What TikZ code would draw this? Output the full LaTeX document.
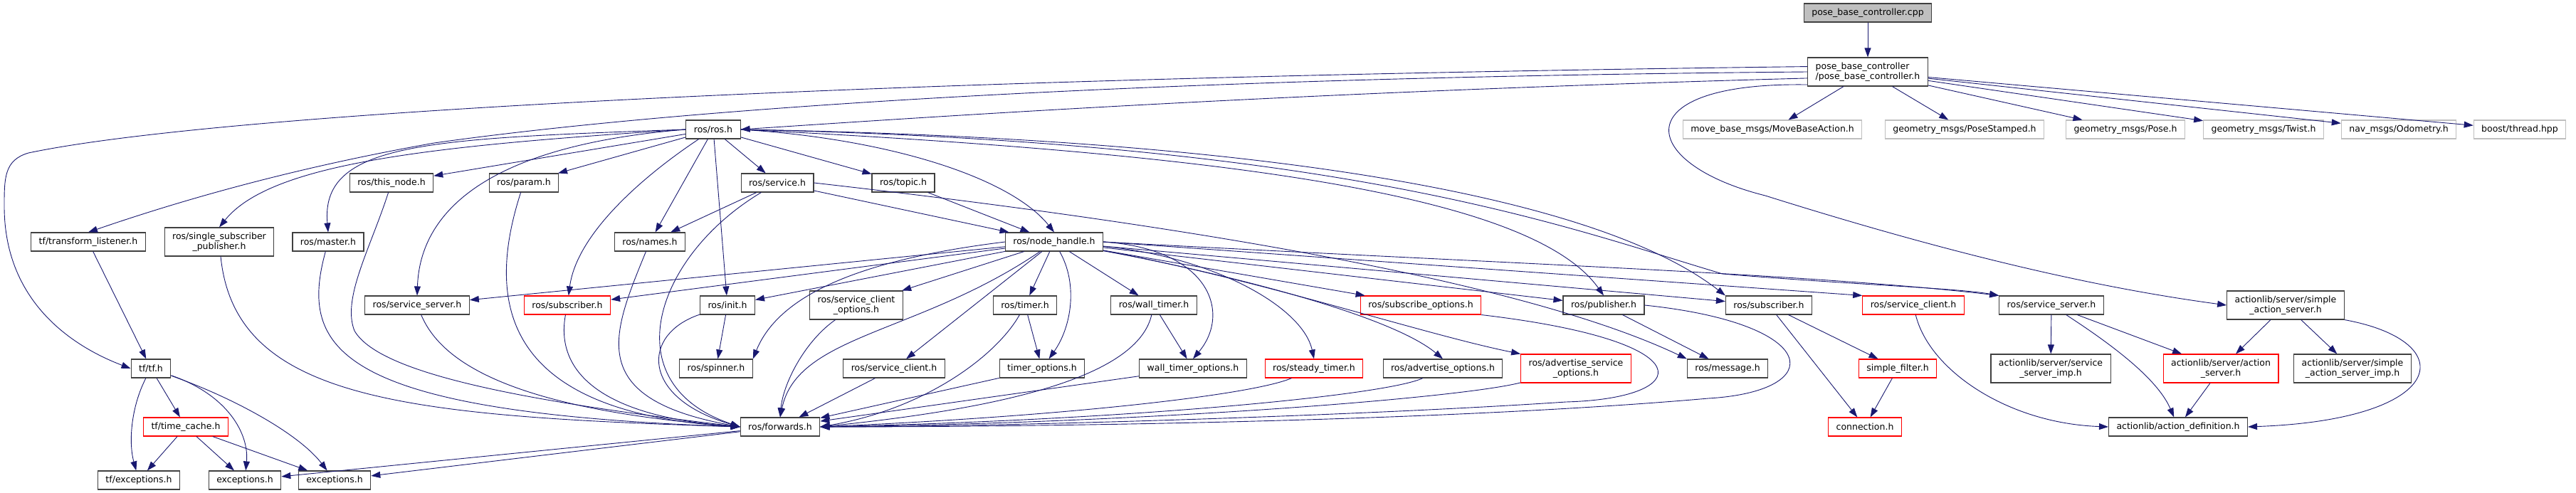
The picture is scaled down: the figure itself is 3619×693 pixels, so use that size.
\documentclass[tikz,border=0pt]{standalone}
\usepackage{fontspec}
\setmainfont{DejaVu Sans}
\usetikzlibrary{arrows.meta}
\definecolor{edgeblue}{HTML}{191970}
\definecolor{extgray}{HTML}{BFBFBF}
\definecolor{framegray}{HTML}{404040}
\definecolor{trunc}{HTML}{FF0000}
\newcommand{\depfont}{\fontsize{12.5}{14}\selectfont}

\begin{document}
\begin{tikzpicture}[
    x=1pt, y=-1pt,
    hf/.style={draw=framegray, line width=1.1pt, fill=white, font=\depfont, inner xsep=11pt, inner ysep=0pt, minimum height=26pt, align=center},
    hfred/.style={hf, draw=trunc},
    hfext/.style={hf, draw=extgray},
    hfroot/.style={hf, fill=extgray},
    tall/.style={minimum height=40pt},
    dep/.style={draw=edgeblue, line width=0.9pt, -{Triangle[length=13pt,width=9pt]}},
]

% Canvas size
\useasboundingbox (0,0) rectangle (3619,693);

% Source file and its header
\node[hfroot] (cpp) at (2624,18) {pose\_base\_controller.cpp};
\node[hf, tall, align=left] (pbc) at (2624,101) {pose\_base\_controller\\/pose\_base\_controller.h};

% Row 2
\node[hf] (ros) at (1002,182) {ros/ros.h};
\node[hfext] (mba) at (2490,182) {move\_base\_msgs/MoveBaseAction.h};
\node[hfext] (gps) at (2760,182) {geometry\_msgs/PoseStamped.h};
\node[hfext] (gp) at (2986,182) {geometry\_msgs/Pose.h};
\node[hfext] (gt) at (3180,182) {geometry\_msgs/Twist.h};
\node[hfext] (odom) at (3370,182) {nav\_msgs/Odometry.h};
\node[hfext] (bthread) at (3540,182) {boost/thread.hpp};

% Row 3
\node[hf] (thisnode) at (550,257) {ros/this\_node.h};
\node[hf] (param) at (736,257) {ros/param.h};
\node[hf] (service) at (1092,257) {ros/service.h};
\node[hf] (topic) at (1269,257) {ros/topic.h};

% Row 4
\node[hf] (tflist) at (124,340) {tf/transform\_listener.h};
\node[hf, tall] (ssp) at (308,340) {ros/single\_subscriber\\\_publisher.h};
\node[hf] (master) at (461,340) {ros/master.h};
\node[hf] (names) at (913,340) {ros/names.h};
\node[hf] (nh) at (1481,340) {ros/node\_handle.h};

% Row 5
\node[hf] (ssrvL) at (586,429) {ros/service\_server.h};
\node[hfred] (subred) at (797,429) {ros/subscriber.h};
\node[hf] (init) at (1022,429) {ros/init.h};
\node[hf, tall] (sco) at (1203,429) {ros/service\_client\\\_options.h};
\node[hf] (timer) at (1440,429) {ros/timer.h};
\node[hf] (wtimer) at (1621,429) {ros/wall\_timer.h};
\node[hfred] (subopt) at (1996,429) {ros/subscribe\_options.h};
\node[hf] (pub) at (2253,429) {ros/publisher.h};
\node[hf] (subblk) at (2485,429) {ros/subscriber.h};
\node[hfred] (sclient) at (2688,429) {ros/service\_client.h};
\node[hf] (ssrvR) at (2882,429) {ros/service\_server.h};
\node[hf, tall] (sas) at (3211,429) {actionlib/server/simple\\\_action\_server.h};

% Row 6
\node[hf] (tf) at (212,518) {tf/tf.h};
\node[hf] (spinner) at (1006,518) {ros/spinner.h};
\node[hf] (sc) at (1256,518) {ros/service\_client.h};
\node[hf] (topt) at (1464,518) {timer\_options.h};
\node[hf] (wtopt) at (1676,518) {wall\_timer\_options.h};
\node[hfred] (steady) at (1846,518) {ros/steady\_timer.h};
\node[hf] (advopt) at (2027,518) {ros/advertise\_options.h};
\node[hfred, tall] (asopt) at (2214,518) {ros/advertise\_service\\\_options.h};
\node[hf] (msg) at (2427,518) {ros/message.h};
\node[hfred] (sfilter) at (2666,518) {simple\_filter.h};
\node[hf, tall] (ssimp) at (2881,518) {actionlib/server/service\\\_server\_imp.h};
\node[hfred, tall] (asrv) at (3120,518) {actionlib/server/action\\\_server.h};
\node[hf, tall] (sasimp) at (3305,518) {actionlib/server/simple\\\_action\_server\_imp.h};

% Row 7
\node[hfred] (tcache) at (261,600) {tf/time\_cache.h};
\node[hf] (fwd) at (1096,600) {ros/forwards.h};
\node[hfred] (conn) at (2620,600) {connection.h};
\node[hf] (adef) at (3060,600) {actionlib/action\_definition.h};

% Row 8
\node[hf] (tfexc) at (195,675) {tf/exceptions.h};
\node[hf] (exca) at (344,675) {exceptions.h};
\node[hf] (excb) at (470,675) {exceptions.h};

% Controller includes
\draw[dep] (cpp) -- (pbc);
\draw[dep] (pbc) -- (mba);
\draw[dep] (pbc) -- (gps);
\draw[dep] (pbc) -- (gp);
\draw[dep] (pbc) -- (gt);
\draw[dep] (pbc) -- (odom);
\draw[dep] (pbc) -- (bthread);
\draw[dep] (pbc.186) .. controls (1800,130) and (1300,165) .. (ros.east);
\draw[dep] (pbc.180) .. controls (1500,110) and (900,160) .. (610,201) .. controls (390,240) and (230,290) .. (tflist.north);
\draw[dep] (pbc.175) .. controls (1200,110) and (300,160) .. (40,215) .. controls (6,225) and (6,250) .. (6,290) .. controls (6,430) and (110,490) .. (tf.west);
\draw[dep] (pbc.192) .. controls (2280,115) and (2300,230) .. (2480,275) .. controls (2750,360) and (2950,405) .. (sas.west);

% tf side
\draw[dep] (tflist) -- (tf);
\draw[dep] (tf) .. controls (185,570) and (180,620) .. (tfexc);
\draw[dep] (tf) -- (tcache);
\draw[dep] (tf) .. controls (320,555) and (350,610) .. (exca);
\draw[dep] (tf) .. controls (330,560) and (420,610) .. (excb);
\draw[dep] (tcache) -- (tfexc);
\draw[dep] (tcache) -- (exca);
\draw[dep] (tcache) -- (excb);
\draw[dep] (fwd) -- (exca);
\draw[dep] (fwd) -- (excb);

% ros/ros.h
\draw[dep] (ros) -- (thisnode);
\draw[dep] (ros) -- (param);
\draw[dep] (ros) -- (service);
\draw[dep] (ros) -- (topic);
\draw[dep] (ros) -- (names);
\draw[dep] (ros) -- (init);
\draw[dep] (ros) .. controls (900,250) and (810,330) .. (subred);
\draw[dep] (ros.west) .. controls (600,195) and (450,200) .. (master.north);
\draw[dep] (ros.west) .. controls (600,205) and (380,230) .. (ssp.north);
\draw[dep] (ros.west) .. controls (680,205) and (590,300) .. (ssrvL.north);
\draw[dep] (ros.east) .. controls (1250,195) and (1420,250) .. (nh.north);
\draw[dep] (ros.east) .. controls (1700,215) and (2150,270) .. (pub.north);
\draw[dep] (ros.east) .. controls (1800,195) and (2250,280) .. (subblk.north west);
\draw[dep] (ros.east) .. controls (1900,200) and (2200,320) .. (2420,385) .. controls (2600,400) and (2750,405) .. (ssrvR.north west);

% ros/service.h and ros/topic.h
\draw[dep] (service) -- (names);
\draw[dep] (service) -- (nh);
\draw[dep] (service) .. controls (920,360) and (860,540) .. (fwd.west);
\draw[dep] (service.east) .. controls (1700,320) and (2150,400) .. (msg.north west);
\draw[dep] (topic) -- (nh);

% ros/node_handle.h
\draw[dep] (nh) -- (ssrvL);
\draw[dep] (nh) -- (subred);
\draw[dep] (nh) -- (init);
\draw[dep] (nh.west) .. controls (1250,360) and (1100,400) .. (spinner.north east);
\draw[dep] (nh) -- (sco);
\draw[dep] (nh) -- (sc);
\draw[dep] (nh) .. controls (1290,470) and (1120,470) .. (fwd.north);
\draw[dep] (nh) -- (timer);
\draw[dep] (nh) .. controls (1515,400) and (1505,460) .. (topt);
\draw[dep] (nh) -- (wtimer);
\draw[dep] (nh.east) .. controls (1700,350) and (1730,440) .. (wtopt.north);
\draw[dep] (nh) .. controls (1700,360) and (1830,430) .. (steady.north);
\draw[dep] (nh) .. controls (1700,380) and (1950,440) .. (advopt.north);
\draw[dep] (nh) .. controls (1760,390) and (2000,470) .. (asopt.north west);
\draw[dep] (nh) -- (subopt);
\draw[dep] (nh) -- (pub);
\draw[dep] (nh) -- (subblk);
\draw[dep] (nh.east) -- (sclient.north west);
\draw[dep] (nh.east) .. controls (2100,370) and (2550,385) .. (ssrvR.north west);

% Into ros/forwards.h
\draw[dep] (ssp) .. controls (330,560) and (560,585) .. (fwd.west);
\draw[dep] (master) .. controls (420,490) and (470,580) .. (fwd.west);
\draw[dep] (thisnode) .. controls (520,350) and (480,420) .. (498,465) .. controls (530,520) and (700,560) .. (fwd.west);
\draw[dep] (param) .. controls (680,430) and (710,580) .. (fwd.west);
\draw[dep] (ssrvL) .. controls (620,510) and (720,575) .. (fwd.west);
\draw[dep] (subred) .. controls (780,520) and (840,585) .. (fwd.west);
\draw[dep] (names) .. controls (860,470) and (820,560) .. (fwd.west);
\draw[dep] (init) -- (spinner);
\draw[dep] (init) .. controls (900,470) and (900,560) .. (fwd.west);
\draw[dep] (sco) .. controls (1130,480) and (1100,540) .. (fwd.north);
\draw[dep] (sc) -- (fwd);
\draw[dep] (timer) -- (topt);
\draw[dep] (timer) .. controls (1400,500) and (1300,575) .. (fwd.east);
\draw[dep] (topt) -- (fwd);
\draw[dep] (wtimer) -- (wtopt);
\draw[dep] (wtimer) .. controls (1600,520) and (1450,570) .. (fwd.east);
\draw[dep] (wtopt) -- (fwd);
\draw[dep] (steady) .. controls (1760,555) and (1500,585) .. (fwd.east);
\draw[dep] (advopt) .. controls (1950,555) and (1600,590) .. (fwd.east);
\draw[dep] (asopt) .. controls (2050,560) and (1600,595) .. (fwd.east);
\draw[dep] (subopt.south east) .. controls (2400,480) and (2380,560) .. (2200,565) .. controls (1900,585) and (1400,600) .. (fwd.east);
\draw[dep] (pub) -- (msg);
\draw[dep] (pub.east) .. controls (2560,455) and (2570,550) .. (2400,560) .. controls (2000,595) and (1400,600) .. (fwd.east);

% Right hand side
\draw[dep] (subblk) -- (conn);
\draw[dep] (subblk) -- (sfilter);
\draw[dep] (sfilter) -- (conn);
\draw[dep] (sclient) .. controls (2710,520) and (2820,595) .. (adef.west);
\draw[dep] (ssrvR) -- (ssimp);
\draw[dep] (ssrvR) -- (asrv);
\draw[dep] (ssrvR) .. controls (2960,480) and (3030,530) .. (adef);
\draw[dep] (sas) -- (asrv);
\draw[dep] (sas) -- (sasimp);
\draw[dep] (sas.south east) .. controls (3460,480) and (3440,590) .. (adef.east);
\draw[dep] (asrv) -- (adef);

\end{tikzpicture}
\end{document}
